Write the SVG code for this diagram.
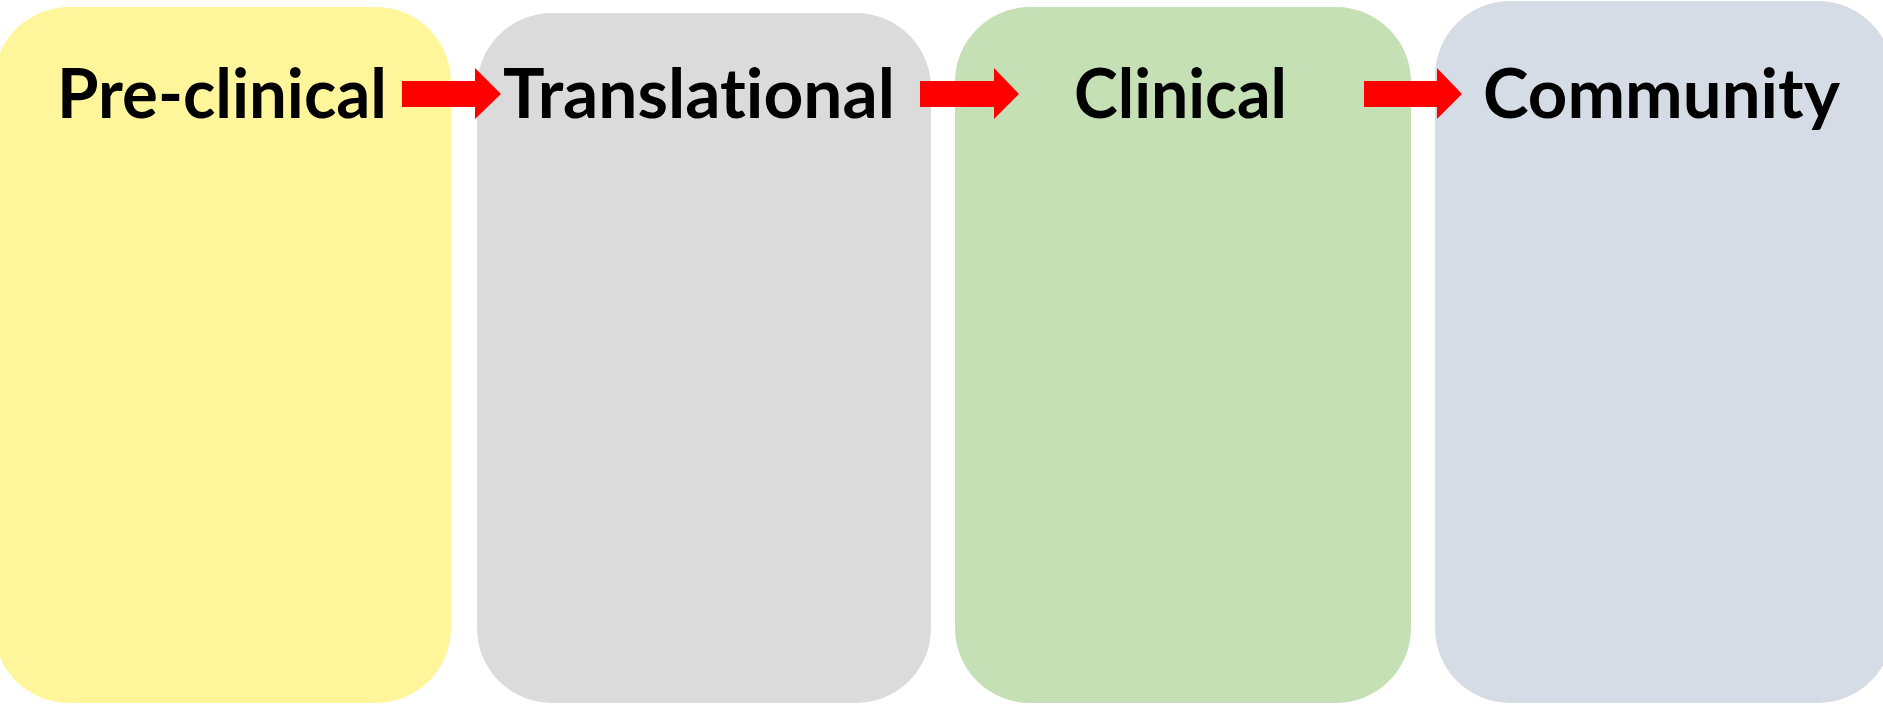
<svg xmlns="http://www.w3.org/2000/svg" width="1883" height="707" viewBox="0 0 1883 707">
<style>
.lbl{font-family:Lato,"Open Sans","Liberation Sans",sans-serif;font-weight:bold;font-size:68px;fill:#000;font-variant-ligatures:none;font-feature-settings:"liga" 0,"clig" 0}
.arr{fill:#FF0000}
</style>
<rect width="1883" height="707" fill="#FFFFFF"/>
<g id="preclinical">
<rect x="-6" y="7" width="457" height="696" rx="75" ry="75" fill="#FFF69C"/>
<text class="lbl" x="57" y="118" textLength="330" lengthAdjust="spacingAndGlyphs">Pre-clinical</text>
</g>
<g id="translational">
<rect x="477" y="13" width="454" height="690" rx="75" ry="75" fill="#DBDBDB"/>
<text class="lbl" x="503" y="118" textLength="392" lengthAdjust="spacingAndGlyphs">Translational</text>
</g>
<g id="clinical">
<rect x="955" y="7" width="456" height="696" rx="75" ry="75" fill="#C5E0B4"/>
<text class="lbl" x="1074" y="118" textLength="213" lengthAdjust="spacingAndGlyphs">Clinical</text>
</g>
<g id="community">
<rect x="1435" y="1" width="458" height="702" rx="75" ry="75" fill="#D6DCE5"/>
<text class="lbl" x="1483" y="118" textLength="357" lengthAdjust="spacingAndGlyphs">Community</text>
</g>
<g id="connectors">
<polygon class="arr" points="402,81 475,81 475,68 501,94 475,119 475,107 402,107"/>
<polygon class="arr" points="920,81 994,81 994,68 1019,94 994,119 994,107 920,107"/>
<polygon class="arr" points="1364,81 1437,81 1437,68 1462,94 1437,119 1437,107 1364,107"/>
</g>
</svg>
